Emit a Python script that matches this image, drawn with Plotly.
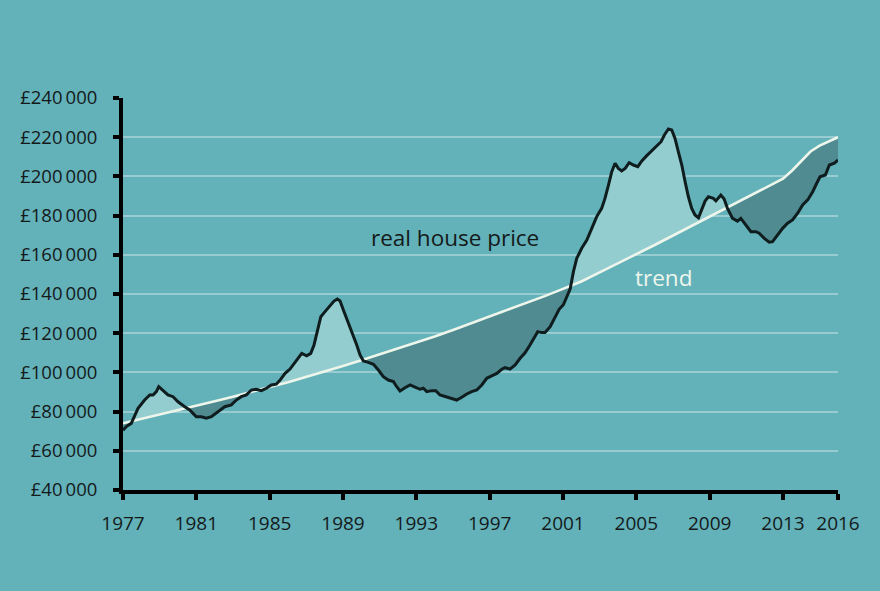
import numpy as np
import plotly.graph_objects as go

# ---- data ----
price_years = [
    1977.0, 1977.2, 1977.45, 1977.64, 1977.82, 1978.18, 1978.46, 1978.64, 1978.82, 1978.95,
    1979.18, 1979.45, 1979.73, 1980.0, 1980.37, 1980.64, 1980.82, 1981.0, 1981.27, 1981.55,
    1981.82, 1982.18, 1982.55, 1982.91, 1983.18, 1983.45, 1983.73, 1984.0, 1984.27, 1984.55,
    1984.82, 1985.09, 1985.36, 1985.57, 1985.84, 1986.11, 1986.29, 1986.48, 1986.75, 1987.02,
    1987.24, 1987.42, 1987.6, 1987.79, 1988.02, 1988.29, 1988.51, 1988.69, 1988.84, 1989.02,
    1989.2, 1989.38, 1989.56, 1989.75, 1989.93, 1990.11, 1990.38, 1990.66, 1990.93, 1991.2,
    1991.47, 1991.75, 1991.93, 1992.11, 1992.38, 1992.66, 1992.93, 1993.2, 1993.38, 1993.57,
    1993.84, 1994.06, 1994.29, 1994.57, 1994.93, 1995.2, 1995.48, 1995.75, 1996.02, 1996.3,
    1996.57, 1996.84, 1997.11, 1997.39, 1997.66, 1997.84, 1998.11, 1998.39, 1998.66, 1998.93,
    1999.2, 1999.44, 1999.62, 1999.84, 2000.02, 2000.3, 2000.57, 2000.79, 2001.02, 2001.2,
    2001.39, 2001.57, 2001.75, 2002.02, 2002.3, 2002.57, 2002.84, 2003.11, 2003.29, 2003.48,
    2003.66, 2003.84, 2004.02, 2004.2, 2004.39, 2004.61, 2004.84, 2005.08, 2005.3, 2005.57,
    2005.84, 2006.11, 2006.35, 2006.53, 2006.75, 2006.93, 2007.11, 2007.29, 2007.48, 2007.66,
    2007.84, 2008.02, 2008.2, 2008.39, 2008.57, 2008.75, 2008.93, 2009.2, 2009.34, 2009.61,
    2009.79, 2009.97, 2010.25, 2010.52, 2010.7, 2010.98, 2011.25, 2011.52, 2011.7, 2011.98,
    2012.25, 2012.43, 2012.7, 2012.98, 2013.25, 2013.52, 2013.8, 2014.07, 2014.35, 2014.62,
    2014.84, 2015.02, 2015.31, 2015.53, 2015.8, 2016.0,
]
price_values = [
    70500, 72500, 74000, 78300, 81700, 85900, 88500, 88500, 90200, 92700,
    90700, 88500, 87600, 85000, 82500, 80800, 79100, 77400, 77400, 76600,
    77400, 80000, 82500, 83400, 85900, 87600, 88500, 91000, 91400, 90700,
    91900, 93600, 94000, 96100, 99500, 101700, 103800, 106300, 109700, 108500,
    109700, 114000, 120800, 128400, 131000, 134000, 136400, 137400, 136400, 131800,
    127600, 123300, 118200, 114000, 108900, 105800, 105100, 104100, 101200, 97800,
    96100, 95300, 92700, 90500, 92200, 93600, 92500, 91400, 91900, 90200,
    90700, 90700, 88500, 87600, 86800, 85900, 87300, 89000, 90200, 91000,
    93600, 97000, 98200, 99500, 101600, 102400, 101700, 103800, 107200, 110000,
    114000, 118200, 120800, 120300, 120300, 123300, 128500, 132200, 134500, 138000,
    142500, 151400, 158200, 163300, 167500, 173500, 179500, 183700, 188800, 195600,
    202400, 206700, 204100, 202800, 204100, 207000, 205800, 205000, 207900, 210600,
    213000, 215200, 217700, 221100, 224200, 223700, 219400, 212600, 205800, 197300,
    189600, 183700, 180300, 178900, 182900, 187400, 189600, 188800, 187500, 190500,
    188500, 183700, 178600, 177200, 178600, 175200, 171800, 171800, 171000, 168400,
    166400, 166700, 170100, 173500, 176100, 177800, 181200, 185400, 188000, 192200,
    196500, 199800, 200700, 205800, 206700, 208400,
]

trend_years = [
    1977, 1978, 1979, 1980, 1981, 1982, 1983, 1984, 1985, 1986,
    1987, 1988, 1989, 1990, 1991, 1992, 1993, 1994, 1995, 1996,
    1997, 1998, 1999, 2000, 2001, 2002, 2003, 2004, 2005, 2006,
    2007, 2008, 2009, 2010, 2011, 2012, 2013, 2013.5, 2014, 2014.5,
    2015, 2015.5, 2016,
]
trend_values = [
    74000, 76200, 78500, 80800, 83000, 85300, 87600, 89900, 92500, 95000,
    97700, 100500, 103300, 106200, 109200, 112000, 115000, 118300, 121600, 125000,
    128400, 131800, 135300, 138900, 142600, 146400, 151000, 155500, 160300, 165000,
    169800, 174500, 179500, 184000, 188800, 193700, 198800, 203000, 207800, 212700,
    215700, 218000, 220000,
]

x_tick_years = [1977, 1981, 1985, 1989, 1993, 1997, 2001, 2005, 2009, 2013, 2016]
y_tick_values = [40000, 60000, 80000, 100000, 120000, 140000, 160000, 180000, 200000, 220000, 240000]
y_tick_labels = ["£" + f"{v:,}".replace(",", "\u2009") for v in y_tick_values]

price_label = "real house price"
trend_label = "trend"

# ---- colours ----
BG = "#63b1b9"
LIGHT = "#93cdd0"
DARK = "#4f8b91"
TREND_C = "#eef6ec"
PRICE_C = "#0f1d1e"
GRID_C = "rgba(255,255,255,0.35)"
TEXT_C = "#141a1a"
FONT = "Open Sans"

# ---- fill geometry between price and trend ----
px = np.array(price_years, dtype=float)
pv = np.array(price_values, dtype=float)
tv = np.interp(px, trend_years, trend_values)
d = pv - tv
gx, gp, gt = [px[0]], [pv[0]], [tv[0]]
for i in range(1, len(px)):
    if d[i - 1] * d[i] < 0:
        f = d[i - 1] / (d[i - 1] - d[i])
        cx = px[i - 1] + f * (px[i] - px[i - 1])
        cy = tv[i - 1] + f * (tv[i] - tv[i - 1])
        gx.append(cx); gp.append(cy); gt.append(cy)
    gx.append(px[i]); gp.append(pv[i]); gt.append(tv[i])
gx, gp, gt = np.array(gx), np.array(gp), np.array(gt)
upper = np.maximum(gp, gt)
lower = np.minimum(gp, gt)

fig = go.Figure()
nol = dict(width=0)
fig.add_trace(go.Scatter(x=gx, y=gt, mode="lines", line=nol, hoverinfo="skip", showlegend=False))
fig.add_trace(go.Scatter(x=gx, y=upper, mode="lines", line=nol, fill="tonexty",
                         fillcolor=LIGHT, hoverinfo="skip", showlegend=False))
fig.add_trace(go.Scatter(x=gx, y=gt, mode="lines", line=nol, hoverinfo="skip", showlegend=False))
fig.add_trace(go.Scatter(x=gx, y=lower, mode="lines", line=nol, fill="tonexty",
                         fillcolor=DARK, hoverinfo="skip", showlegend=False))
fig.add_trace(go.Scatter(x=trend_years, y=trend_values, mode="lines", name=trend_label,
                         line=dict(color=TREND_C, width=2.6), showlegend=False))
fig.add_trace(go.Scatter(x=price_years, y=price_values, mode="lines", name=price_label,
                         line=dict(color=PRICE_C, width=3), showlegend=False))

fig.add_annotation(x=1995.1, y=169000, text=price_label, showarrow=False,
                   font=dict(family=FONT, size=22.5, color=TEXT_C))
fig.add_annotation(x=2006.5, y=148500, text=trend_label, showarrow=False,
                   font=dict(family=FONT, size=22.5, color=TREND_C))

fig.update_layout(
    width=880, height=591,
    margin=dict(l=123, r=42, t=98, b=101),
    paper_bgcolor=BG, plot_bgcolor=BG,
    font=dict(family=FONT, size=18, color=TEXT_C),
    showlegend=False,
)
fig.update_xaxes(
    range=[1977, 2016], tickmode="array", tickvals=x_tick_years,
    ticktext=[str(y) for y in x_tick_years],
    showgrid=False, zeroline=False,
    showline=True, linecolor="black", linewidth=4,
    ticks="outside", ticklen=6, tickwidth=4, tickcolor="black",
    ticklabelstandoff=7, tickfont=dict(family=FONT, size=19, color=TEXT_C),
)
fig.update_yaxes(
    range=[40000, 240000], tickmode="array", tickvals=y_tick_values, ticktext=y_tick_labels,
    showgrid=True, gridcolor=GRID_C, gridwidth=1.8, zeroline=False,
    showline=True, linecolor="black", linewidth=4,
    ticks="outside", ticklen=6, tickwidth=4, tickcolor="black",
    ticklabelstandoff=12, tickfont=dict(family=FONT, size=18.5, color=TEXT_C),
)

fig.write_html("out.html", config={"displayModeBar": False})
with open("out.html", "r", encoding="utf-8") as fh:
    html = fh.read()
html = html.replace("<head>", "<head><style>html,body{margin:0;padding:0;overflow:hidden;}</style>", 1)
with open("out.html", "w", encoding="utf-8") as fh:
    fh.write(html)
